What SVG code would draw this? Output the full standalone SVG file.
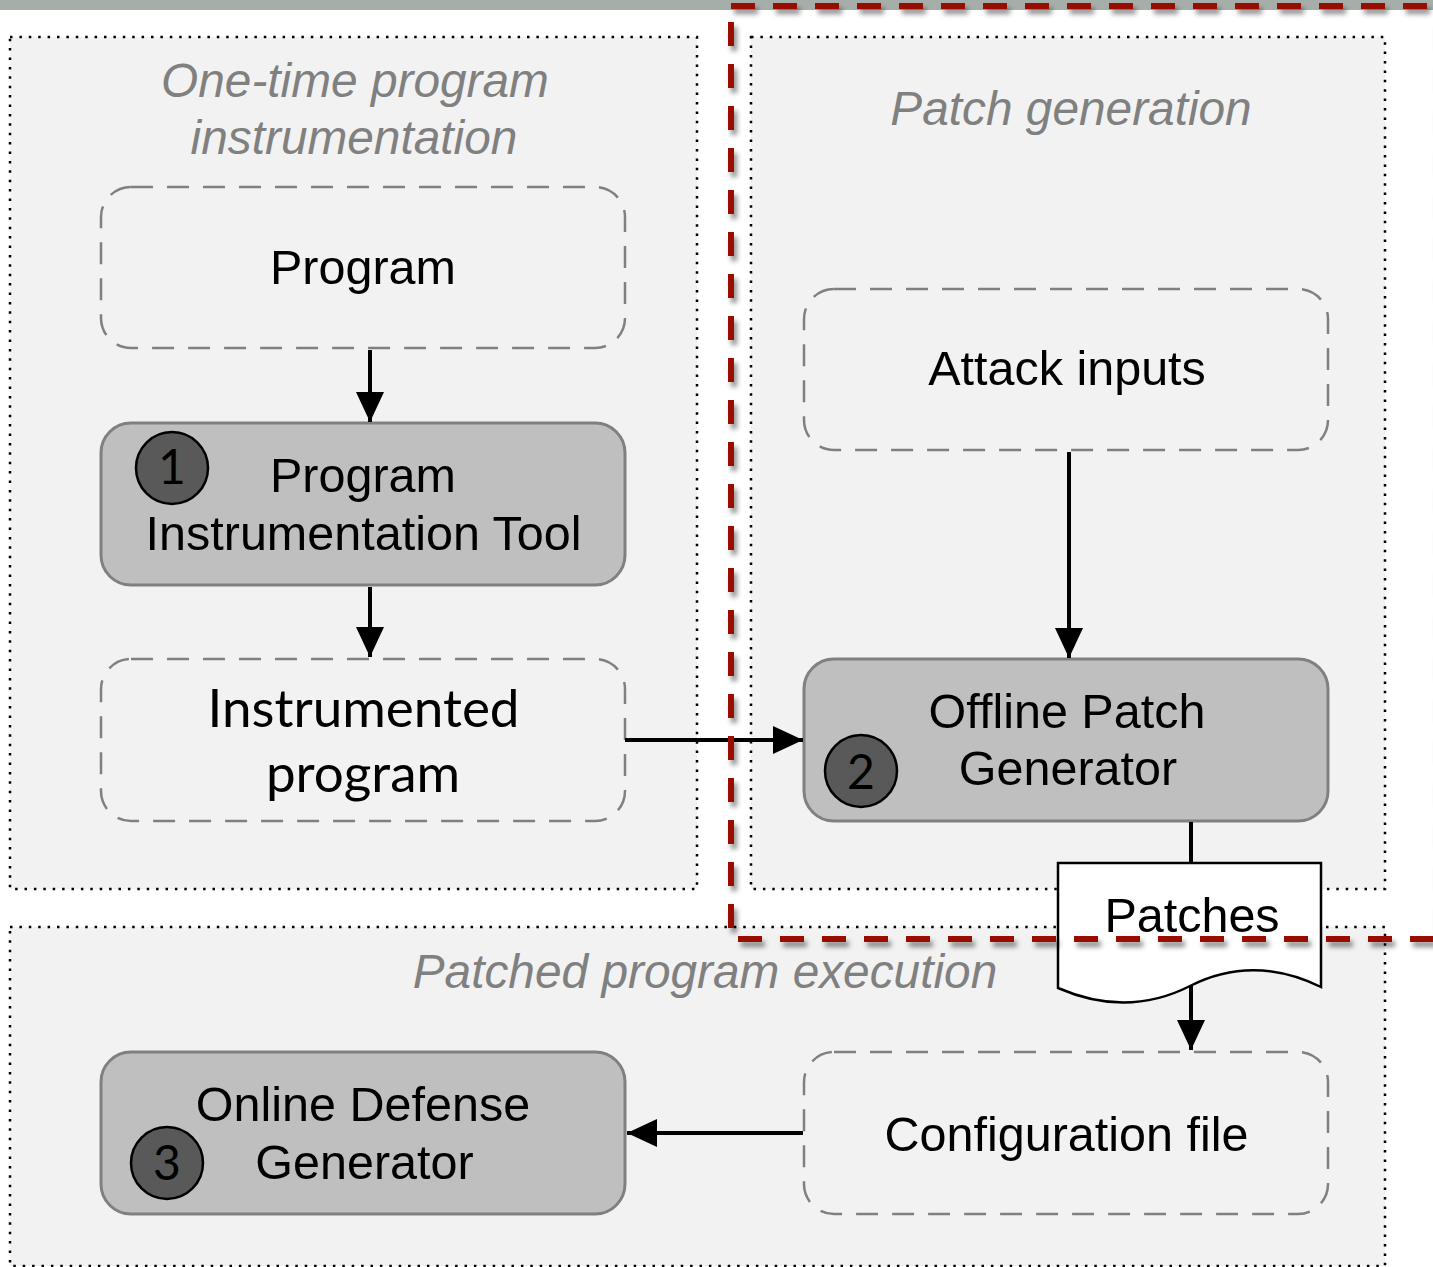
<svg xmlns="http://www.w3.org/2000/svg" width="1433" height="1267" viewBox="0 0 1433 1267">
  <style>
    .panel { fill: #f2f2f2; stroke: #000; stroke-width: 2.5; stroke-dasharray: 2.5 6.9; }
    .title { font-family: "Liberation Sans", Arial, sans-serif; font-style: italic; font-size: 47.8px; fill: #808080; text-anchor: middle; }
    .io { fill: #f2f2f2; stroke: #808080; stroke-width: 2.5; stroke-dasharray: 22 14; }
    .proc { fill: #bfbfbf; stroke: #808080; stroke-width: 3; }
    .lbl { font-family: "Liberation Sans", Arial, sans-serif; font-size: 48.5px; fill: #000; text-anchor: middle; }
    .lbl2 { font-family: Lato, "Open Sans", sans-serif; font-size: 53px; fill: #000; text-anchor: middle; }
    .badge { fill: #595959; stroke: #000; stroke-width: 2.5; }
    .num { font-family: Lato, "Open Sans", sans-serif; font-size: 48px; fill: #000; text-anchor: middle; }
    .edge { stroke: #000; stroke-width: 4; fill: none; }
    .zone { stroke: #991100; stroke-width: 6; fill: none; stroke-dasharray: 24 18; }
  </style>
  <defs>
    <marker id="arrow" markerUnits="userSpaceOnUse" markerWidth="30" markerHeight="30" viewBox="0 0 30 30" refX="30" refY="15" orient="auto">
      <path d="M0,1 L30,15 L0,29 Z" fill="#000"/>
    </marker>
    <filter id="shadow" x="-5%" y="-5%" width="110%" height="110%">
      <feDropShadow dx="3" dy="5" stdDeviation="2.5" flood-color="#000" flood-opacity="0.45"/>
    </filter>
  </defs>

  <rect x="0" y="0" width="1433" height="1267" fill="#fff"/>
  <!-- header strip -->
  <rect x="0" y="0" width="1433" height="10" fill="#a5aea8"/>

  <!-- stage panels -->
  <g id="panel-instrumentation">
    <rect class="panel" x="10" y="37" width="687" height="852"/>
    <text class="title" x="355" y="97">One-time program</text>
    <text class="title" x="354" y="154">instrumentation</text>
  </g>
  <g id="panel-patch-generation">
    <rect class="panel" x="751" y="37" width="634" height="852"/>
    <text class="title" x="1071" y="125">Patch generation</text>
  </g>
  <g id="panel-execution">
    <rect class="panel" x="10" y="927" width="1375" height="339"/>
    <text class="title" x="705" y="988">Patched program execution</text>
  </g>

  <!-- nodes -->
  <g id="program">
    <rect class="io" x="101" y="187" width="524" height="161" rx="30"/>
    <text class="lbl" x="363" y="284">Program</text>
  </g>
  <g id="instrumentation-tool">
    <rect class="proc" x="101" y="423" width="524" height="162" rx="30"/>
    <circle class="badge" cx="172" cy="468" r="36"/>
    <text class="num" x="172" y="484">1</text>
    <text class="lbl" x="363" y="492">Program</text>
    <text class="lbl" x="363.5" y="550">Instrumentation Tool</text>
  </g>
  <g id="instrumented-program">
    <rect class="io" x="101" y="659" width="524" height="162" rx="30"/>
    <text class="lbl2" x="363.5" y="727">Instrumented</text>
    <text class="lbl2" x="363" y="792">program</text>
  </g>
  <g id="attack-inputs">
    <rect class="io" x="804" y="289" width="524" height="161" rx="30"/>
    <text class="lbl" x="1067" y="385">Attack inputs</text>
  </g>
  <g id="offline-patch-generator">
    <rect class="proc" x="804" y="659" width="524" height="162" rx="30"/>
    <circle class="badge" cx="861" cy="771" r="36"/>
    <text class="num" x="861" y="789">2</text>
    <text class="lbl" x="1067" y="728">Offline Patch</text>
    <text class="lbl" x="1068" y="785">Generator</text>
  </g>
  <g id="configuration-file">
    <rect class="io" x="804" y="1052" width="524" height="162" rx="30"/>
    <text class="lbl" x="1066.5" y="1151">Configuration file</text>
  </g>
  <g id="online-defense-generator">
    <rect class="proc" x="101" y="1052" width="524" height="162" rx="30"/>
    <circle class="badge" cx="167" cy="1163" r="36"/>
    <text class="num" x="167" y="1180">3</text>
    <text class="lbl" x="363" y="1121">Online Defense</text>
    <text class="lbl" x="364.5" y="1179">Generator</text>
  </g>

  <!-- connectors -->
  <g id="connectors">
    <line class="edge" x1="370" y1="350" x2="370" y2="422" marker-end="url(#arrow)"/>
    <line class="edge" x1="370" y1="587" x2="370" y2="657" marker-end="url(#arrow)"/>
    <line class="edge" x1="625" y1="740" x2="803" y2="740" marker-end="url(#arrow)"/>
    <line class="edge" x1="1069" y1="452" x2="1069" y2="658" marker-end="url(#arrow)"/>
    <line class="edge" x1="1191" y1="822" x2="1191" y2="864"/>
    <line class="edge" x1="1191" y1="985" x2="1191" y2="1050" marker-end="url(#arrow)"/>
    <line class="edge" x1="803" y1="1133" x2="627" y2="1133" marker-end="url(#arrow)"/>
  </g>

  <!-- document node -->
  <g id="patches">
    <path d="M1058,863 H1321 V987 Q1253,954 1190,986 Q1127,1018 1058,988 Z" fill="#fff" stroke="#000" stroke-width="2.5"/>
    <text class="lbl" x="1192" y="932">Patches</text>
  </g>

  <!-- offline boundary -->
  <g id="offline-boundary" filter="url(#shadow)">
    <line class="zone" x1="731" y1="6" x2="1440" y2="6"/>
    <line class="zone" x1="731" y1="22" x2="731" y2="940"/>
    <line class="zone" x1="738" y1="939" x2="1440" y2="939"/>
    <line class="zone" x1="1437" y1="22" x2="1437" y2="940"/>
  </g>
</svg>
